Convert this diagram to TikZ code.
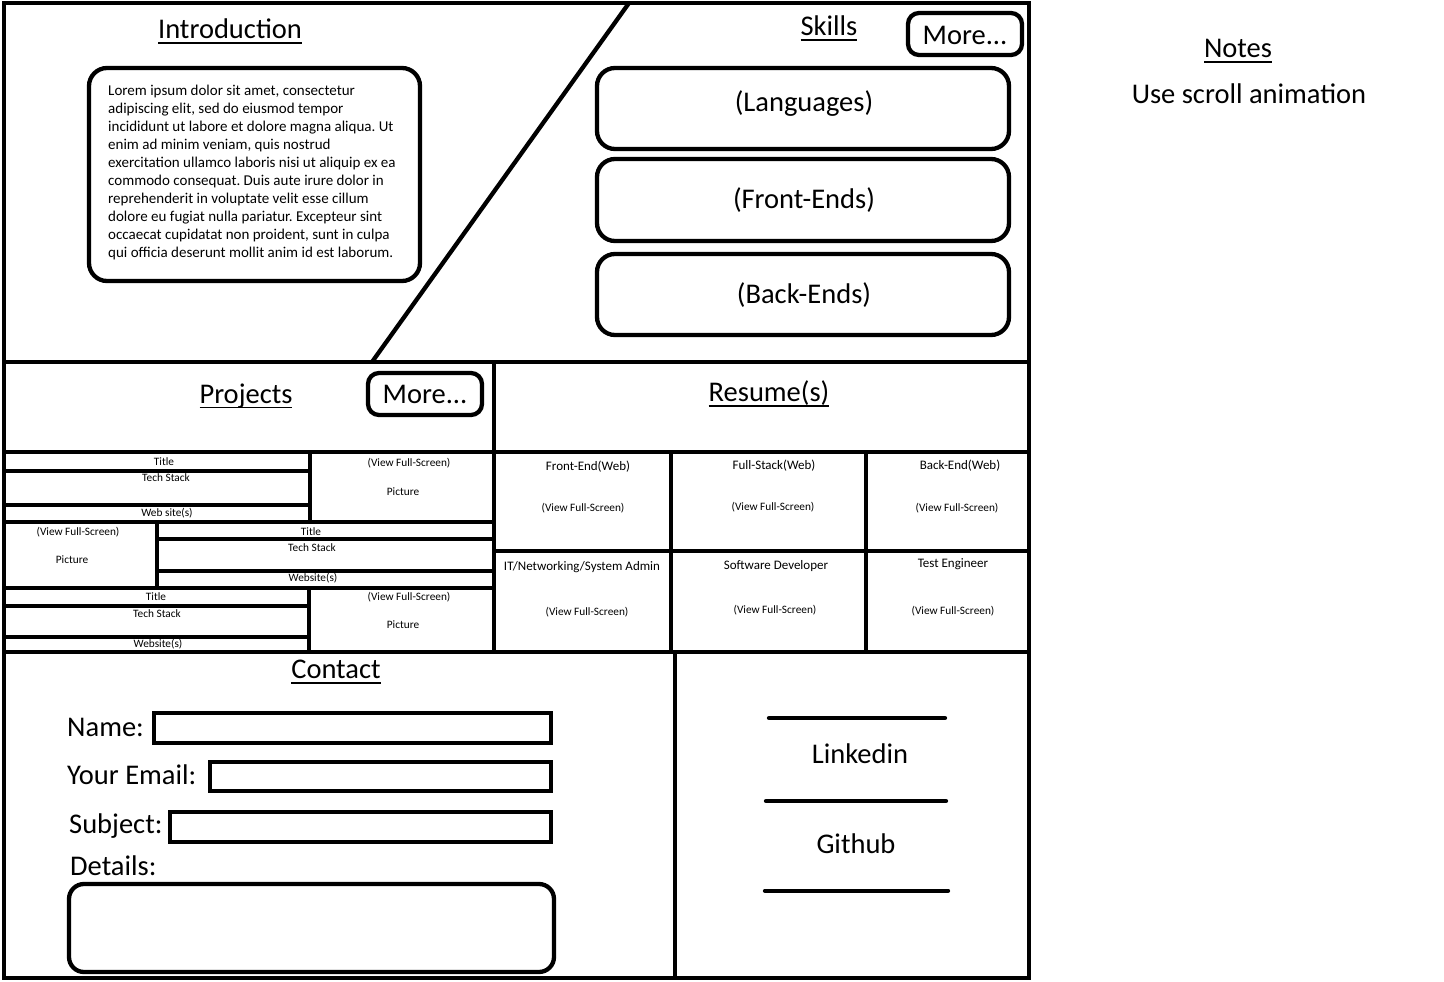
\documentclass[tikz,border=0pt]{standalone}
\usepackage{fontspec}
\setmainfont{Carlito}
\frenchspacing
\newsavebox{\hdbox}
\newcommand{\hdline}[1]{\sbox{\hdbox}{#1}\usebox{\hdbox}\llap{\rule[-5.1pt]{\wd\hdbox}{1.8pt}}}
\begin{document}
\begin{tikzpicture}[x=1pt, y=-1pt,
        heavy/.style={line width=4.3pt},
        rbox/.style={line width=4.3pt, rounded corners=18pt},
        mbox/.style={line width=4.3pt, rounded corners=11pt},
        bigtext/.style={font=\fontsize{28.5}{34}\selectfont, anchor=base, inner sep=0pt, yshift=-1.5pt},
        midtext/.style={font=\fontsize{13}{15}\selectfont, anchor=base, inner sep=0pt},
        smalltext/.style={font=\fontsize{11.3}{13}\selectfont, anchor=base, inner sep=0pt}]
    \useasboundingbox (0,0) rectangle (1444,982);
    \draw[heavy] (4,3) rectangle (1029,978);
    \draw[heavy] (4,362)--(1029,362);
    \draw[heavy] (629,3)--(372,362);
    \draw[heavy] (494,362)--(494,652);
    \draw[heavy] (4,452)--(1029,452);
    \draw[heavy] (4,652)--(1029,652);
    \draw[heavy] (675,652)--(675,978);
    \draw[heavy] (671,452)--(671,652) (866,452)--(866,652) (494,551)--(1029,551);
    \draw[heavy] (310,452)--(310,522) (4,471)--(310,471) (4,505)--(310,505) (4,522)--(494,522);
    \draw[heavy] (157,522)--(157,588) (157,539)--(494,539) (157,571)--(494,571) (4,588)--(494,588);
    \draw[heavy] (309,588)--(309,652) (4,606)--(309,606) (4,637)--(309,637);
    % introduction
    \node[bigtext] (intro) at (230,37.3) {\hdline{Introduction}};
    \draw[rbox] (89,68) rectangle (420,281);
    \node[font=\fontsize{15}{18}\selectfont, anchor=base west, align=left, inner sep=0pt] (lorem) at (108,257)
        {Lorem ipsum dolor sit amet, consectetur\\
         adipiscing elit, sed do eiusmod tempor\\
         incididunt ut labore et dolore magna aliqua. Ut\\
         enim ad minim veniam, quis nostrud\\
         exercitation ullamco laboris nisi ut aliquip ex ea\\
         commodo consequat. Duis aute irure dolor in\\
         reprehenderit in voluptate velit esse cillum\\
         dolore eu fugiat nulla pariatur. Excepteur sint\\
         occaecat cupidatat non proident, sunt in culpa\\
         qui officia deserunt mollit anim id est laborum.};
    % skills
    \node[bigtext] (skills) at (829,34) {\hdline{Skills}};
    \draw[mbox] (908,13) rectangle (1022,55);
    \node[bigtext] (skmore) at (965,43.3) {More...};
    \foreach \n/\ya/\yb/\yt/\t in {lang/68/149/110/(Languages), front/159/241/207/(Front-Ends), back/254/335/302/(Back-Ends)}
        {
            \draw[rbox] (597,\ya) rectangle (1009,\yb);
            \node[bigtext] (\n) at (804,\yt) {\t};
        }
    % projects
    \node[bigtext] (projects) at (246,401.7) {\hdline{Projects}};
    \draw[mbox] (368,373) rectangle (482,415);
    \node[bigtext] (prmore) at (425,401.7) {More...};
    \foreach \n/\x/\y/\t in {
            a1/164/465/Title, a2/166/481/Tech Stack, a3/167/516.7/Web site(s),
            a4/409/466.7/(View Full-Screen), a5/403/495/Picture,
            b1/78/535/(View Full-Screen), b2/72/563.3/Picture,
            b3/311/535/Title, b4/312/551.7/Tech Stack, b5/313/581.7/Website(s),
            c1/156/600.7/Title, c2/157/617.7/Tech Stack, c3/158/647.3/Website(s),
            c4/409/600/(View Full-Screen), c5/403/628.3/Picture}
        {
            \node[smalltext] (p\n) at (\x,\y) {\t};
        }
    % resume
    \node[bigtext] (resume) at (769,400) {\hdline{Resume(s)}};
    \foreach \n/\x/\y/\vx/\vy/\t in {
            1/588/470.7/583/511/Front-End(Web),
            2/774/469/773/510/Full-Stack(Web),
            3/960/469/957/511/Back-End(Web),
            4/582/570.7/587/615/{IT/Networking/System Admin},
            5/776/569.3/775/613.3/Software Developer,
            6/953/567.3/953/614/Test Engineer}
        {
            \node[midtext] (rt\n) at (\x,\y) {\t};
            \node[smalltext] (rv\n) at (\vx,\vy) {(View Full-Screen)};
        }
    % contact
    \node[bigtext] (contact) at (336,677.3) {\hdline{Contact}};
    \node[bigtext, anchor=base west] (name) at (67,735) {Name:};
    \node[bigtext, anchor=base west] (email) at (67,783) {Your Email:};
    \node[bigtext, anchor=base west] (subject) at (69,831.7) {Subject:};
    \node[bigtext, anchor=base west] (details) at (70,874.3) {Details:};
    \draw[heavy] (154,713) rectangle (551,743);
    \draw[heavy] (210,762) rectangle (551,791);
    \draw[heavy] (170,812) rectangle (551,842);
    \draw[line width=4.3pt, rounded corners=15pt] (69,884) rectangle (554,972);
    \draw[heavy, line cap=round] (769,718)--(945,718) (766,801)--(946,801) (765,890.7)--(948,890.7);
    \node[bigtext] (linkedin) at (860,762.3) {Linkedin};
    \node[bigtext] (github) at (856,851.7) {Github};
    % notes
    \node[bigtext] (notes) at (1238,56) {\hdline{Notes}};
    \node[bigtext] (scroll) at (1249,102.3) {Use scroll animation};
\end{tikzpicture}
\end{document}
